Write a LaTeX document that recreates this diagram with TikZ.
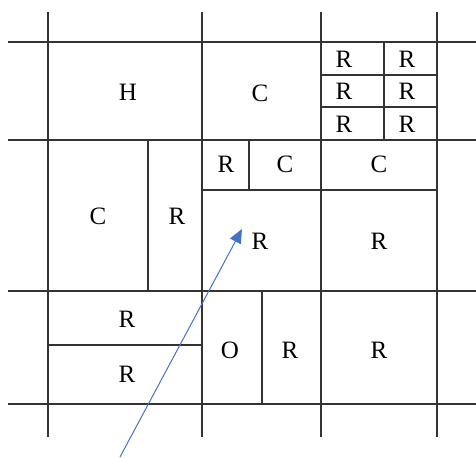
\documentclass[tikz,border=0pt]{standalone}
\usepackage{fontspec}
\setmainfont{Liberation Serif}
\usetikzlibrary{arrows.meta}
\definecolor{arrowblue}{RGB}{68,114,196}

\begin{document}
\begin{tikzpicture}[x=0.5pt,y=-0.5pt,
	every node/.style={font=\fontsize{12.5}{14}\selectfont},
	wall/.style={line width=0.75pt, black!80}]
	\useasboundingbox (0,0) rectangle (476,457);
	% main grid
	\foreach \x in {48,202,321,437}
		\draw[wall] (\x,12) -- (\x,437);
	\foreach \y in {42,140,291,404}
		\draw[wall] (8,\y) -- (476,\y);
	% inner splits
	\draw[wall] (148,140) -- (148,291);
	\draw[wall] (202,190) -- (437,190);
	\draw[wall] (249,140) -- (249,190);
	\draw[wall] (384,42) -- (384,140);
	\draw[wall] (321,75) -- (437,75);
	\draw[wall] (321,107) -- (437,107);
	\draw[wall] (48,345) -- (202,345);
	\draw[wall] (262,291) -- (262,404);
	% labels
	\node (h) at (128,92) {H};
	\node (c1) at (260,93) {C};
	\node (r1) at (344,59) {R};
	\node (r2) at (407,59) {R};
	\node (r3) at (344,91) {R};
	\node (r4) at (407,91) {R};
	\node (r5) at (344,124) {R};
	\node (r6) at (407,124) {R};
	\node (r7) at (226,164) {R};
	\node (c2) at (285,164) {C};
	\node (c3) at (379,164) {C};
	\node (c4) at (98,216) {C};
	\node (r8) at (177,216) {R};
	\node (r9) at (260,241) {R};
	\node (r10) at (379,241) {R};
	\node (r11) at (127,319) {R};
	\node (r12) at (127,374) {R};
	\node (o) at (230,350) {O};
	\node (r13) at (290,350) {R};
	\node (r14) at (379,350) {R};
	% pointer
	\coordinate (tail) at (120,457);
	\coordinate (tip) at (242,229);
	\draw[arrowblue, line width=0.5pt, -{Triangle[length=7pt,width=6pt]}] (tail) -- (tip);
\end{tikzpicture}
\end{document}
